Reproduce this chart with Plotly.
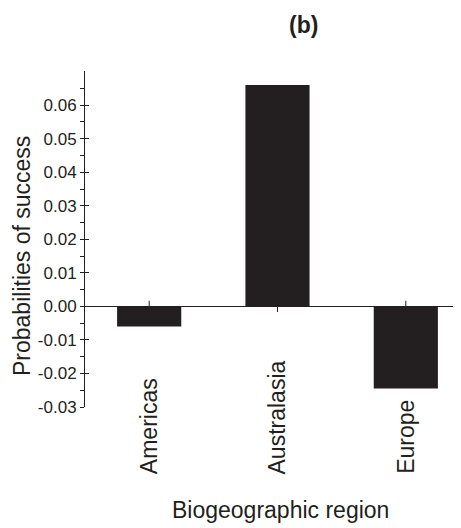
import plotly.graph_objects as go

# data
regions = ["Americas", "Australasia", "Europe"]
success_prob = [-0.006, 0.066, -0.0245]
y_ticks = [-0.03, -0.02, -0.01, 0.0, 0.01, 0.02, 0.03, 0.04, 0.05, 0.06]
y_ticktext = [f"{v:.2f}" for v in y_ticks]  # plain hyphen minus like the original

INK = "#231f20"
FONT = "Liberation Sans, Arial, sans-serif"

# the page body has an 8px margin, so the figure is shrunk by that much
PAGE_OFF = 8
W, H = 461 - PAGE_OFF, 528 - PAGE_OFF
L, T, R, B = 85 - PAGE_OFF, 71 - PAGE_OFF, 0, 121
plot_w = W - L - R
plot_h = H - T - B


def px(x, y):
    """window pixel position -> paper coords"""
    return (x - PAGE_OFF - L) / plot_w, (H - B - (y - PAGE_OFF)) / plot_h


fig = go.Figure()

# small category ticks crossing the zero line (mostly hidden behind the bars)
fig.add_trace(
    go.Scatter(
        x=regions,
        y=[0] * len(regions),
        mode="markers",
        marker={"symbol": "line-ns", "size": 8, "line": {"color": INK, "width": 1}},
        hoverinfo="skip",
        showlegend=False,
    )
)
fig.add_trace(
    go.Bar(
        x=regions,
        y=success_prob,
        width=0.5,
        marker={"color": INK, "line": {"width": 0}},
        showlegend=False,
    )
)
# second y axis only to get ticks on the inner side too (crossing ticks)
fig.add_trace(go.Scatter(x=[], y=[], yaxis="y2", showlegend=False))

yaxis_common = dict(
    range=[-0.03, 0.0702],
    tickvals=y_ticks,
    ticklen=4,
    tickwidth=1,
    tickcolor=INK,
    showgrid=False,
    minor={"tickvals": [v + 0.005 for v in y_ticks], "ticklen": 4,
           "tickwidth": 1, "tickcolor": INK},
)

fig.update_layout(
    width=W,
    height=H,
    margin={"l": L, "r": R, "t": T, "b": B, "autoexpand": False},
    plot_bgcolor="white",
    paper_bgcolor="white",
    font={"family": FONT, "color": INK, "size": 17},
    xaxis={
        "type": "category",
        "range": [-0.5, 2.43],
        "showline": False,
        "showticklabels": False,
        "ticks": "",
        "showgrid": False,
        "zeroline": False,
    },
    yaxis={
        **yaxis_common,
        "ticktext": y_ticktext,
        "ticks": "outside",
        "showline": True,
        "linecolor": INK,
        "linewidth": 1,
        "zeroline": True,
        "zerolinecolor": INK,
        "zerolinewidth": 1,
        "tickfont": {"size": 17, "color": INK},
    },
    yaxis2={
        **yaxis_common,
        "ticks": "inside",
        "overlaying": "y",
        "side": "left",
        "showticklabels": False,
        "showline": False,
        "zeroline": False,
    },
)

# rotated category labels, bottom aligned like the original
_, label_bottom = px(0, 476)
for region in regions:
    fig.add_annotation(
        x=region,
        y=label_bottom,
        xref="x",
        yref="paper",
        text=region,
        textangle=-90,
        showarrow=False,
        xanchor="center",
        yanchor="bottom",
        font={"size": 23, "family": FONT, "color": INK},
    )

for text, x, y, angle in [
    ("Biogeographic region", 280, 510, 0),
    ("Probabilities of success", 22, 256, -90),
    ("<b>(b)</b>", 303, 25, 0),
]:
    ax, ay = px(x, y)
    fig.add_annotation(
        x=ax, y=ay, xref="paper", yref="paper", text=text, textangle=angle,
        showarrow=False, xanchor="center", yanchor="middle",
        font={"size": 23, "family": FONT, "color": INK},
    )

fig.write_html("out.html")
